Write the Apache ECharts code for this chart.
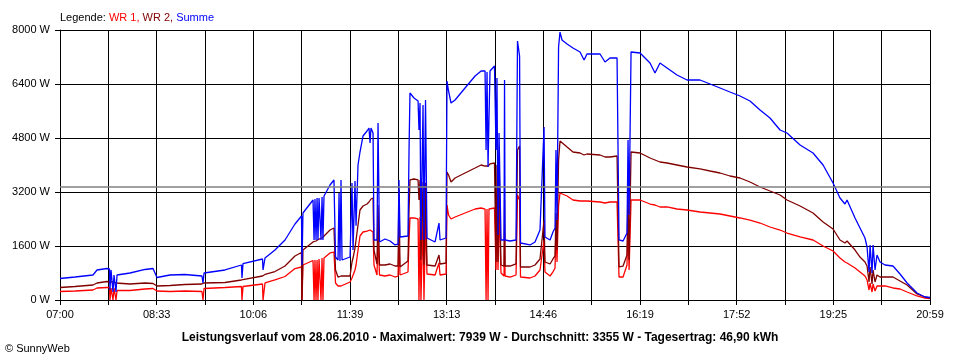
<!DOCTYPE html>
<html>
<head>
<meta charset="utf-8">
<script src="https://cdn.jsdelivr.net/npm/echarts@6/dist/echarts.min.js"></script>
<style>
html,body{margin:0;padding:0;background:#fff;}
#chart{width:960px;height:360px;}
</style>
</head>
<body>
<div id="chart"></div>
<script>
// x tick labels (every second grid step)
const timeLabels = ['07:00','08:33','10:06','11:39','13:13','14:46','16:19','17:52','19:25','20:59'];
const spanMinutes = 839;   // 07:00 .. 20:59
const gridSteps = 18;
const yTicks = [0, 1600, 3200, 4800, 6400, 8000];
const average = 3355;

// time in minutes after 07:00
const minutes = [
0,14.5,31.8,35.7,45.3,47.7,48.2,49.2,51.1,52.1,54,55,67.5,82,89.7,93.5,106.1,120.5,136.9,137.9,
138.9,159.1,175,175.5,176.5,195.3,195.8,197.7,207.3,217,226.6,232.9,233.4,234.3,244,245,245.9,246.9,247.9,248.8,
249.8,251.7,252.7,253.6,254.6,260.4,264.2,265.7,268.1,269.1,270,271,272,279.7,281.6,282.6,284.5,285.5,287.4,289.3,
292.2,296.1,298,299,299.9,301.9,302.8,305.7,306.7,308.1,313.4,318.3,323.1,326,326.9,327.9,335.6,336.6,337.5,341.4,
345.3,346.2,347.2,348.1,350.1,351,352.5,353.9,361.7,365.5,366.5,372.3,373.2,374.7,377.1,381,390.6,400.3,406.1,409.9,
410.9,411.8,412.8,413.7,414.7,419,420.5,421.4,422.4,423.4,425.3,428.2,428.7,429.2,434,439.8,441.2,443.2,444.1,453.3,
458.1,462.9,464.8,466.8,467.7,472.6,475.4,477.4,478.3,479.3,480.8,482.2,484.1,489,494.7,501.5,505.4,508.2,520.8,525.6,
530.4,537.2,539.1,543,546.8,547.8,548.8,550.7,559.4,569,573.8,578.6,585.4,595,604.7,617.2,626.9,636.5,646.1,655.8,
665.4,675.1,684.7,694.4,701.1,713.7,726.2,735.9,745.5,752.2,757,759,766.7,771.5,776.3,778.3,780.2,781.2,783.1,784.1,
786,787.9,790.8,795.6,803.3,810.1,816.9,826.5,834.2,839
];

// WR 1 (W)
const wr1 = [
252,267,296,356,370,370,0,356,0,356,0,281,281,326,341,267,252,267,252,0,
341,370,400,0,400,474,0,504,593,696,933,978,0,1037,1170,0,1185,0,1185,0,
1215,0,1244,0,1244,1393,1422,504,415,415,385,415,444,533,652,681,889,1037,1481,1896,
2015,2044,2074,2074,2044,2015,1037,741,1926,741,711,741,681,711,1778,741,830,1778,2430,2430,
2400,0,2459,0,2430,0,2400,770,741,1096,741,770,2815,2519,2400,2459,2578,2696,2726,2696,
0,2696,0,2696,2726,2726,889,2726,889,2667,800,711,2074,711,681,741,3111,2963,681,652,
711,889,919,1778,830,711,830,948,2163,1126,2800,3170,3170,3082,2963,2933,2933,2933,2904,2874,
2904,2904,681,681,1037,2370,889,2963,2963,2844,2815,2756,2756,2696,2667,2607,2578,2548,2489,2430,
2370,2281,2163,2074,1985,1867,1778,1600,1452,1244,1126,1096,948,830,711,593,296,504,237,474,
267,415,415,415,356,326,237,119,59,44
];

// WR 2 (W)
const wr2 = [
370,400,444,504,548,533,533,533,533,533,504,504,474,504,489,415,430,459,474,474,
504,519,593,593,607,711,711,756,844,1007,1304,1407,0,1481,1719,1719,1748,1748,1778,1778,
1807,1807,1837,1837,1867,2074,2133,889,681,681,681,711,681,711,1126,1244,1541,1778,2222,2667,
2785,2844,2904,2874,2993,3022,1481,1067,2815,1037,1037,1067,1007,1007,3259,978,1156,2667,3556,3585,
3556,2963,3556,1185,3496,1037,3467,1037,1007,1333,1067,1096,3793,3704,3496,3615,3763,3911,4000,3970,
3941,4000,3970,4000,4030,4059,1126,4000,1126,4000,1037,1007,2963,1007,1007,1067,4444,4563,978,978,
1037,1215,1244,2370,1126,1067,1215,1304,2578,1481,4148,4711,4682,4533,4385,4356,4296,4326,4296,4237,
4237,4267,978,1007,1333,3259,1185,4385,4356,4207,4148,4089,4059,4000,3941,3882,3822,3763,3674,3615,
3496,3348,3230,3111,2963,2785,2578,2311,2104,1778,1689,1748,1481,1274,1126,1007,533,978,474,889,
533,741,681,681,681,563,444,178,89,59
];

// Summe (W)
const summe = [
637,681,741,889,933,919,296,889,237,741,237,741,800,904,933,667,741,756,711,504,
800,889,1037,652,1081,1215,889,1244,1481,1778,2252,2489,1037,2578,2963,1778,2993,1778,3022,1778,
3022,1778,3052,1778,3082,3407,3556,1274,1185,3170,1156,3556,1185,1274,3467,1481,3526,2200,4000,4385,
4859,5007,5096,4652,5096,4948,1778,1778,5245,1719,1807,1748,1630,1659,3556,1867,1896,4444,6133,5985,
5896,5037,5837,1778,5778,1778,5926,1837,1719,2281,1778,1837,6489,6193,5837,5926,6282,6637,6785,6785,
4444,6756,3940,5393,6785,6933,4444,6578,1926,4948,1778,1778,6519,1778,1748,1778,7674,7230,1689,1630,
1719,2074,2074,5126,1867,1778,2015,2133,4444,2370,7496,7939,7704,7585,7467,7348,7111,7289,7289,7052,
7170,7170,1778,1748,1985,4741,2519,7348,7319,7022,6726,7022,6874,6667,6519,6519,6400,6282,6163,6044,
5896,5630,5393,5037,4948,4593,4356,4000,3467,3022,2844,2963,2430,2133,1837,1570,830,1630,800,1630,
889,1333,1126,1037,1007,770,504,207,89,74
];

const zip = arr => minutes.map((t, i) => [t, arr[i]]);
const step = spanMinutes / gridSteps;
const font = '"Liberation Sans", Arial, sans-serif';

const chart = echarts.init(document.getElementById('chart'), null, {renderer: 'canvas'});
chart.setOption({
  animation: false,
  backgroundColor: '#ffffff',
  textStyle: {fontFamily: font},
  title: [
    {
      left: 60, top: 12, padding: 0,
      text: '{k|Legende: }{r|WR 1, }{d|WR 2, }{b|Summe}',
      textStyle: {
        fontWeight: 'normal', fontSize: 11,
        rich: {
          k: {color: '#000000', fontSize: 11, fontWeight: 'normal', fontFamily: font},
          r: {color: '#ff0000', fontSize: 11, fontWeight: 'normal', fontFamily: font},
          d: {color: '#800000', fontSize: 11, fontWeight: 'normal', fontFamily: font},
          b: {color: '#0000ff', fontSize: 11, fontWeight: 'normal', fontFamily: font}
        }
      }
    },
    {
      left: 'center', top: 332, padding: 0,
      text: 'Leistungsverlauf vom 28.06.2010 - Maximalwert: 7939 W - Durchschnitt: 3355 W - Tagesertrag: 46,90 kWh',
      textStyle: {color: '#000000', fontSize: 12, fontWeight: 'bold', fontFamily: font}
    },
    {
      left: 5, top: 343, padding: 0,
      text: '\u00a9 SunnyWeb',
      textStyle: {color: '#000000', fontSize: 11, fontWeight: 'normal', fontFamily: font}
    }
  ],
  grid: {left: 60, right: 30, top: 30, bottom: 60, containLabel: false},
  xAxis: {
    type: 'value', min: 0, max: spanMinutes, interval: step,
    axisLine: {show: true, lineStyle: {color: '#000', width: 1}},
    axisTick: {show: true, length: 5, lineStyle: {color: '#000', width: 1}},
    axisLabel: {
      color: '#000', fontSize: 11, fontFamily: font, margin: 9,
      showMinLabel: true, showMaxLabel: true,
      formatter: v => {
        const k = Math.round(v / step);
        return k % 2 === 0 ? (timeLabels[k / 2] || '') : '';
      }
    },
    splitLine: {show: true, lineStyle: {color: '#000', width: 1}}
  },
  yAxis: {
    type: 'value', min: yTicks[0], max: yTicks[yTicks.length - 1], interval: yTicks[1] - yTicks[0],
    axisLine: {show: true, lineStyle: {color: '#000', width: 1}},
    axisTick: {show: true, length: 5, lineStyle: {color: '#000', width: 1}},
    axisLabel: {color: '#000', fontSize: 11, fontFamily: font, margin: 10, formatter: v => String(v) + ' W'},
    splitLine: {show: true, lineStyle: {color: '#000', width: 1}}
  },
  series: [
    {
      name: 'WR 1', type: 'line', data: zip(wr1), showSymbol: false, symbol: 'none',
      lineStyle: {color: '#ff0000', width: 1.3}, itemStyle: {color: '#ff0000'},
      markLine: {
        silent: true, symbol: 'none', label: {show: false},
        lineStyle: {color: '#808080', width: 1.5, type: 'solid'},
        data: [{yAxis: average}]
      }
    },
    {
      name: 'WR 2', type: 'line', data: zip(wr2), showSymbol: false, symbol: 'none',
      lineStyle: {color: '#800000', width: 1.3}, itemStyle: {color: '#800000'}
    },
    {
      name: 'Summe', type: 'line', data: zip(summe), showSymbol: false, symbol: 'none',
      lineStyle: {color: '#0000ff', width: 1.3}, itemStyle: {color: '#0000ff'}
    }
  ]
});
</script>
</body>
</html>
